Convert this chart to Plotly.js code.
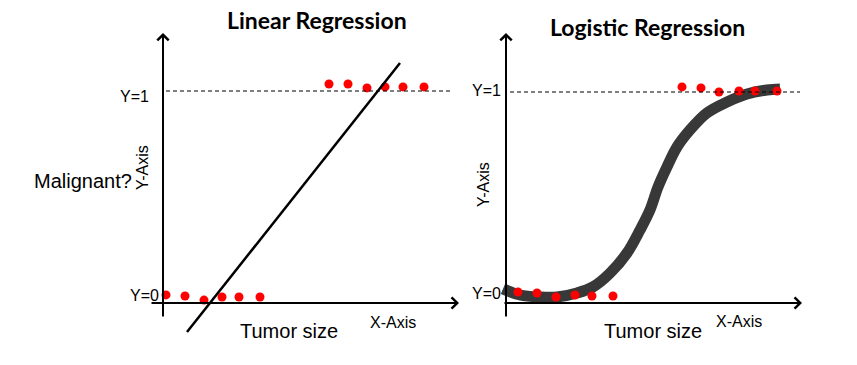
<!DOCTYPE html>
<html>
<head>
<meta charset="utf-8">
<script src="https://cdn.plot.ly/plotly-3.0.1.min.js"></script>
<style>html,body{margin:0;padding:0;background:#fff;}#chart{width:857px;height:365px;}</style>
</head>
<body>
<div id="chart"></div>
<script>
// ---- Data (tumor size in arbitrary units, class 0/1) ----
const linBenignX = [0.15, 1.1, 2.05, 2.95, 3.8, 4.85];
const linBenignY = [0.01, 0.005, -0.015, 0, 0, 0];
const linMalignX = [8.3, 9.25, 10.2, 11.1, 12.0, 13.05];
const linMalignY = [1.034, 1.034, 1.015, 1.02, 1.02, 1.02];
const linFitX = [1.2, 11.85];
const linFitY = [-0.17, 1.136];

const logBenignX = [0.6, 1.55, 2.5, 3.45, 4.3, 5.35];
const logBenignY = [0.015, 0.01, -0.01, 0, -0.005, -0.005];
const logMalignX = [8.8, 9.75, 10.65, 11.65, 12.45, 13.55];
const logMalignY = [1.025, 1.02, 1.0, 1.005, 1.005, 1.005];
const logCurveX = [-0.15, 0.7, 1.7, 2.55, 3.55, 4.35, 5.2, 6.05, 6.7, 7.2, 7.6, 8.05, 8.55, 9.2, 10.05, 11.05, 12.05, 13.05, 13.7];
const logCurveY = [0.03, 0, -0.01, -0.01, 0.01, 0.04, 0.108, 0.207, 0.32, 0.419, 0.532, 0.631, 0.729, 0.813, 0.897, 0.951, 0.99, 1.01, 1.015];

const titles = ["Linear Regression", "Logistic Regression"];
const yTickText = ["Y=0", "Y=1"];
const xAxisName = "X-Axis";
const yAxisName = "Y-Axis";
const xLabel = "Tumor size";
const yQuestion = "Malignant?";

// ---- Layout helpers (pixel -> paper) ----
const W = 857, H = 365;
const px = v => v / W;
const py = v => 1 - v / H;

const RED = '#ff0000';
const dotMarker = {color: RED, size: 9};

const traces = [
  {x: linBenignX, y: linBenignY, xaxis: 'x', yaxis: 'y', mode: 'markers', marker: dotMarker, hoverinfo: 'skip'},
  {x: linMalignX, y: linMalignY, xaxis: 'x', yaxis: 'y', mode: 'markers', marker: dotMarker, hoverinfo: 'skip'},
  {x: linFitX, y: linFitY, xaxis: 'x', yaxis: 'y', mode: 'lines', line: {color: '#000', width: 2.5}, hoverinfo: 'skip'},
  {x: logCurveX, y: logCurveY, xaxis: 'x2', yaxis: 'y2', mode: 'lines', line: {color: '#383838', width: 11, shape: 'spline'}, hoverinfo: 'skip'},
  {x: logBenignX, y: logBenignY, xaxis: 'x2', yaxis: 'y2', mode: 'markers', marker: dotMarker, hoverinfo: 'skip'},
  {x: logMalignX, y: logMalignY, xaxis: 'x2', yaxis: 'y2', mode: 'markers', marker: dotMarker, hoverinfo: 'skip'}
];

const axHidden = {visible: false, showgrid: false, zeroline: false, fixedrange: true};
const yDomain = [py(345), py(25)];

function arrow(xr, yr, x, y, ax, ay) {
  return {xref: xr, yref: yr, axref: xr, ayref: yr, x: x, y: y, ax: ax, ay: ay,
          text: '', showarrow: true, arrowhead: 4, arrowsize: 1.1, arrowwidth: 2, arrowcolor: '#000', standoff: 0, startstandoff: 0};
}
function label(text, x, y, size, opts) {
  return Object.assign({xref: 'paper', yref: 'paper', x: px(x), y: py(y), text: text, showarrow: false,
          xanchor: 'center', yanchor: 'middle',
          font: {family: 'Liberation Sans, Arial, sans-serif', size: size, color: '#000'}}, opts || {});
}
const titleFont = {family: 'Lato, sans-serif', size: 23, color: '#000', weight: 'bold'};

const annotations = [
  // axes with arrow heads
  arrow('x', 'y', 0, 1.2816, 0, -0.1019),
  arrow('x', 'y', 14.8, -0.0291, -0.65, -0.0291),
  arrow('x2', 'y2', 0, 1.2906, 0, -0.1133),
  arrow('x2', 'y2', 14.8, -0.0394, -0.15, -0.0394),
  // titles
  label('<b>' + titles[0] + '</b>', 317, 20, 23, {font: titleFont}),
  label('<b>' + titles[1] + '</b>', 647, 27, 23, {font: titleFont}),
  // y level labels
  label(yTickText[1], 134, 96, 16),
  label(yTickText[0], 144, 295, 16),
  label(yTickText[1], 487, 91, 16),
  label(yTickText[0], 487, 293, 16),
  // axis names
  label(yAxisName, 142, 168, 16, {textangle: -90}),
  label(yAxisName, 483, 185, 16, {textangle: -90}),
  label(yQuestion, 83, 181, 20),
  label(xAxisName, 393, 322, 16),
  label(xAxisName, 739, 321, 16),
  label(xLabel, 289, 331, 20),
  label(xLabel, 653, 331, 20)
];

const shapes = [
  {type: 'line', xref: 'x', yref: 'y', x0: 0.15, x1: 14.45, y0: 1, y1: 1, line: {color: '#000', width: 1.2, dash: '4px,3px'}},
  {type: 'line', xref: 'x2', yref: 'y2', x0: 0.2, x1: 14.7, y0: 1, y1: 1, line: {color: '#000', width: 1.2, dash: '4px,3px'}}
];

const layout = {
  width: W, height: H,
  margin: {l: 0, r: 0, t: 0, b: 0, pad: 0},
  paper_bgcolor: '#fff', plot_bgcolor: 'rgba(0,0,0,0)',
  showlegend: false,
  xaxis: Object.assign({domain: [px(140), px(470)], range: [-1.15, 15.35], anchor: 'y'}, axHidden),
  yaxis: Object.assign({domain: yDomain, range: [-0.2330, 1.3204], anchor: 'x'}, axHidden),
  xaxis2: Object.assign({domain: [px(490), px(820)], range: [-0.8, 15.7], anchor: 'y2'}, axHidden),
  yaxis2: Object.assign({domain: yDomain, range: [-0.2463, 1.3300], anchor: 'x2'}, axHidden),
  annotations: annotations,
  shapes: shapes
};

Plotly.newPlot('chart', traces, layout, {displayModeBar: false, staticPlot: true});
</script>
</body>
</html>
